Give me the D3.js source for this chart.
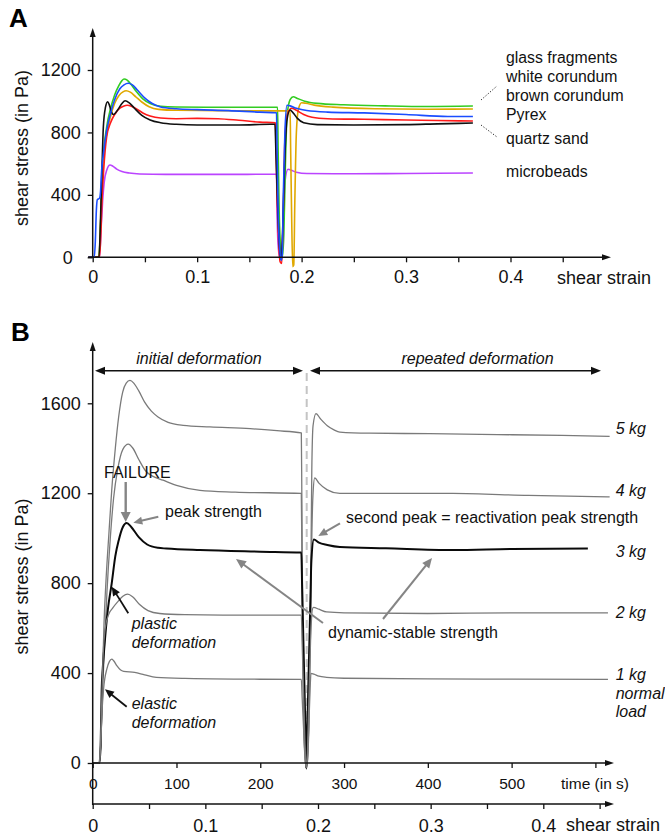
<!DOCTYPE html>
<html>
<head>
<meta charset="utf-8">
<script src="https://cdn.jsdelivr.net/npm/d3@7"></script>
<style>
html,body{margin:0;padding:0;background:#fff;}
svg{display:block;font-family:"Liberation Sans",Arial,sans-serif;}
</style>
</head>
<body>
<svg id="chart" width="665" height="836"></svg>
<script>
// ---------- DATA: panel A (shear strain, shear stress in Pa) ----------
const legendA = ["glass fragments","white corundum","brown corundum","Pyrex","quartz sand","microbeads"];
const colorsA = ["#33cc22","#e0a800","#1a4dff","#ff1a1a","#111111","#bb44ff"];
const glassFragments = [[-0.004,0],[0.006,0],[0.0075,200],[0.0086,420],[0.010,620],[0.0134,836],[0.017,950],[0.021,1040],[0.025,1100],[0.028,1132],[0.030,1142],[0.033,1135],[0.037,1105],[0.042,1060],[0.048,1015],[0.055,985],[0.065,968],[0.08,963],[0.12,961],[0.177,961],[0.1775,700],[0.1785,300],[0.180,60],[0.1815,0],[0.183,150],[0.1845,600],[0.186,900],[0.189,1010],[0.192,1029],[0.196,1018],[0.203,1000],[0.215,986],[0.24,977],[0.28,970],[0.32,966],[0.364,969]];
const whiteCorundum = [[-0.004,0],[0.006,0],[0.0075,200],[0.0086,420],[0.010,600],[0.0134,790],[0.017,900],[0.021,985],[0.025,1035],[0.029,1060],[0.032,1067],[0.036,1058],[0.041,1030],[0.047,995],[0.054,965],[0.063,948],[0.08,942],[0.12,940],[0.17,938],[0.189,938],[0.1895,700],[0.1905,250],[0.1915,-60],[0.1925,-50],[0.1935,350],[0.195,800],[0.197,950],[0.2,990],[0.204,987],[0.212,975],[0.23,962],[0.27,952],[0.32,949],[0.364,950]];
const brownCorundum = [[-0.004,0],[0.0015,0],[0.0025,100],[0.0035,300],[0.0045,370],[0.0065,378],[0.0075,420],[0.0086,560],[0.010,650],[0.0134,815],[0.017,920],[0.021,1010],[0.026,1080],[0.030,1105],[0.034,1115],[0.038,1105],[0.043,1070],[0.05,1020],[0.057,985],[0.065,963],[0.08,952],[0.1,946],[0.13,940],[0.16,930],[0.176,926],[0.1765,700],[0.1775,300],[0.179,60],[0.1805,-20],[0.1815,20],[0.1825,400],[0.184,800],[0.186,974],[0.189,970],[0.195,955],[0.205,940],[0.225,930],[0.26,925],[0.3,915],[0.34,902],[0.364,902]];
const pyrex = [[-0.004,0],[0.0065,0],[0.0078,150],[0.009,380],[0.0105,560],[0.0134,773],[0.017,860],[0.021,915],[0.026,955],[0.030,970],[0.033,974],[0.037,968],[0.042,950],[0.048,925],[0.055,905],[0.065,892],[0.08,888],[0.1,890],[0.12,888],[0.14,878],[0.16,866],[0.175,862],[0.1755,700],[0.1765,400],[0.178,100],[0.1795,-30],[0.181,-40],[0.1825,300],[0.184,750],[0.1865,920],[0.1905,955],[0.195,942],[0.202,915],[0.21,897],[0.225,888],[0.26,884],[0.3,880],[0.33,876],[0.364,873]];
const quartzSand = [[-0.004,0],[0.006,0],[0.0075,250],[0.009,600],[0.0102,836],[0.0122,960],[0.0143,997],[0.016,975],[0.018,930],[0.020,915],[0.024,945],[0.028,985],[0.031,1003],[0.035,990],[0.04,955],[0.047,910],[0.055,880],[0.065,862],[0.08,852],[0.1,848],[0.14,848],[0.17,852],[0.1745,852],[0.1755,650],[0.177,350],[0.179,50],[0.1805,-15],[0.182,200],[0.184,650],[0.186,880],[0.189,944],[0.192,925],[0.196,890],[0.202,862],[0.215,850],[0.25,848],[0.3,850],[0.33,855],[0.364,860]];
const microbeads = [[-0.004,0],[0.0065,0],[0.008,180],[0.0095,360],[0.011,480],[0.0135,560],[0.0166,591],[0.019,585],[0.023,565],[0.028,550],[0.035,540],[0.045,534],[0.07,531],[0.12,531],[0.176,532],[0.1765,300],[0.1775,80],[0.179,0],[0.181,0],[0.1825,250],[0.184,480],[0.187,564],[0.19,558],[0.195,545],[0.205,537],[0.25,535],[0.3,537],[0.364,540]];
const seriesA = [glassFragments, whiteCorundum, brownCorundum, pyrex, quartzSand, microbeads];
const yTicksA = [0,400,800,1200];
const xTicksA = [0,0.05,0.1,0.15,0.2,0.25,0.3,0.35,0.4,0.45];
const xTickLabelsA = {"0":"0","0.1":"0.1","0.2":"0.2","0.3":"0.3","0.4":"0.4"};

// ---------- DATA: panel B (time in s, shear stress in Pa) ----------
const loadLabels = ["5 kg","4 kg","3 kg","2 kg","1 kg"];
const kg5 = [[0,0],[8,0],[10,120],[12,420],[13.5,620],[16,820],[19.5,1030],[22.7,1213],[27,1400],[31,1540],[35.8,1650],[40,1690],[44.5,1702],[49,1690],[55,1655],[62,1605],[70,1565],[78,1539],[90,1515],[108,1502],[140,1495],[188,1487],[220,1478],[249,1468],[249.6,1200],[250.5,700],[252,200],[253.5,20],[255,-20],[256.5,20],[258,200],[260,700],[261.5,1300],[263,1500],[266.5,1554],[272,1530],[280,1500],[288,1482],[295,1472],[330,1467],[402,1465],[500,1460],[560,1457],[617,1453]];
const kg4 = [[0,0],[8,0],[10,120],[12,330],[14,520],[17,760],[21,1000],[25,1180],[30,1310],[36,1395],[42.5,1418],[48,1400],[55,1350],[63,1300],[72,1275],[84,1258],[100,1235],[128,1213],[170,1205],[249,1199],[249.6,950],[250.5,550],[252,160],[253.5,15],[255,-20],[256.5,15],[258,160],[260,600],[261.5,1000],[263,1200],[265,1268],[270,1245],[280,1215],[295,1199],[350,1199],[430,1199],[520,1190],[617,1184]];
const kg3 = [[0,0],[8,0],[9.5,80],[10.7,324],[12,420],[14,520],[18,680],[22.7,799],[27,920],[31,990],[36,1050],[40.5,1068],[46,1050],[55,1005],[65,972],[78,957],[88,954],[128,947],[200,940],[249,936],[250,776],[252,456],[254,135],[255,-25],[256,130],[258,440],[260,750],[261,902],[264,994],[270,980],[280,970],[295,961],[350,955],[430,947],[500,952],[591,954]];
const kg2 = [[0,0],[8,0],[9.5,100],[11,300],[12.5,480],[15,600],[19,660],[24,690],[30,718],[36,742],[41.7,751],[48,738],[56,705],[66,678],[80,665],[110,660],[167,658],[249,658],[250,530],[252,270],[254,20],[255,-20],[256,20],[258,280],[260,540],[262,680],[263.5,692],[270,684],[279,672],[300,668],[400,665],[500,668],[615,668]];
const kg1 = [[0,0],[8,0],[9.5,80],[11,220],[13,330],[17,420],[20,452],[22.7,462],[25,455],[29,432],[33,415],[37,408],[50,403],[62,392],[76,381],[110,376],[180,373],[249,372],[250,290],[252,130],[254,10],[255,-20],[256,10],[258,170],[259.5,330],[260.5,399],[264,395],[270,386],[279,381],[300,377],[400,374],[500,373],[615,372]];
const seriesB = [kg5, kg4, kg3, kg2, kg1];
const yTicksB = [0,400,800,1200,1600];
const timeTicksB = [0,100,200,300,400,500,600];
const strainTicksB = [0,0.05,0.1,0.15,0.2,0.25,0.3,0.35,0.4,0.45];

// ---------- DRAWING ----------
const svg = d3.select("#chart");
const FONT = '"Liberation Sans",Arial,sans-serif';

function tri(g, x, y, ang, len, wid, color){
  // triangle with tip at (x,y) pointing in direction ang (radians)
  const bx = x - len*Math.cos(ang), by = y - len*Math.sin(ang);
  const px = -Math.sin(ang)*wid/2, py = Math.cos(ang)*wid/2;
  g.append("path").attr("d", `M${x},${y}L${bx+px},${by+py}L${bx-px},${by-py}Z`).attr("fill", color);
}
function arrow(g, x1,y1,x2,y2,color,width,len,wid,both){
  const ang = Math.atan2(y2-y1, x2-x1);
  g.append("line").attr("x1", both ? x1+ (len-2)*Math.cos(ang) : x1).attr("y1", both ? y1+(len-2)*Math.sin(ang) : y1)
    .attr("x2", x2-(len-2)*Math.cos(ang)).attr("y2", y2-(len-2)*Math.sin(ang))
    .attr("stroke", color).attr("stroke-width", width);
  tri(g, x2, y2, ang, len, wid, color);
  if (both) tri(g, x1, y1, ang+Math.PI, len, wid, color);
}

// ----- Panel A -----
const xA = d3.scaleLinear().domain([0,0.4]).range([92.7,510.5]);
const yA = d3.scaleLinear().domain([0,1200]).range([257.3,70]);
const gA = svg.append("g");

gA.append("text").attr("x",9).attr("y",27).attr("font-size",26).attr("font-weight","bold").attr("font-family",FONT).text("A");

const lineA = d3.line().x(d=>xA(d[0])).y(d=>yA(d[1])).curve(d3.curveMonotoneX);
// draw in order so black / green ordering looks similar
const drawOrderA = [5,0,1,3,4,2];
drawOrderA.forEach(i=>{
  gA.append("path").datum(seriesA[i]).attr("d", lineA).attr("fill","none")
    .attr("stroke", colorsA[i]).attr("stroke-width",1.6).attr("stroke-linejoin","round");
});

// axes
const axYA = gA.append("g").attr("transform",`translate(${xA(0)},0)`)
  .call(d3.axisLeft(yA).tickValues(yTicksA).tickSize(5).tickPadding(7).tickFormat(d3.format("d")));
axYA.select(".domain").remove();
axYA.selectAll("text").attr("font-size",18).attr("font-family",FONT).attr("fill","#111");
axYA.selectAll("text").filter(d=>d===0).attr("dx",-8);
axYA.selectAll("line").attr("stroke","#111").attr("stroke-width",1.3);

const axXA = gA.append("g").attr("transform",`translate(0,${yA(0)})`)
  .call(d3.axisBottom(xA).tickValues(xTicksA).tickSize(5).tickPadding(8)
  .tickFormat(d=>xTickLabelsA[String(+d.toFixed(2))]||""));
axXA.select(".domain").remove();
axXA.selectAll("text").attr("font-size",18).attr("font-family",FONT).attr("fill","#111");
axXA.selectAll("line").attr("stroke","#111").attr("stroke-width",1.3);

gA.append("line").attr("x1",xA(0)).attr("x2",xA(0)).attr("y1",yA(0)).attr("y2",36).attr("stroke","#111").attr("stroke-width",1.5);
tri(gA, xA(0), 28, -Math.PI/2, 9, 6, "#111");
gA.append("line").attr("x1",88).attr("x2",603).attr("y1",yA(0)).attr("y2",yA(0)).attr("stroke","#111").attr("stroke-width",1.5);
tri(gA, 611, yA(0), 0, 9, 6, "#111");
gA.append("text").attr("x",557).attr("y",283.5).attr("font-size",18).attr("font-family",FONT).attr("fill","#111").text("shear strain");
gA.append("text").attr("transform","translate(27.5,148) rotate(-90)").attr("text-anchor","middle")
  .attr("font-size",18).attr("font-family",FONT).attr("fill","#111").text("shear stress (in Pa)");

// legend text
const legY = [63.3,82.3,101.2,120.2,144.3,176.7];
legendA.forEach((t,i)=>{
  gA.append("text").attr("x",506).attr("y",legY[i]).attr("font-size",15.8).attr("font-family",FONT).attr("fill","#111").text(t);
});
gA.append("line").attr("x1",481).attr("y1",100).attr("x2",497).attr("y2",86).attr("stroke","#333").attr("stroke-width",1).attr("stroke-dasharray","1.3,1.7");
gA.append("line").attr("x1",481).attr("y1",125).attr("x2",497).attr("y2",137).attr("stroke","#333").attr("stroke-width",1).attr("stroke-dasharray","1.3,1.7");

// ----- Panel B -----
const tB = d3.scaleLinear().domain([0,600]).range([92.7,595.4]);
const sB = d3.scaleLinear().domain([0,0.4]).range([92.7,543.3]);
const yB = d3.scaleLinear().domain([0,1600]).range([763,403.3]);
const gB = svg.append("g");

gB.append("text").attr("x",11).attr("y",341).attr("font-size",26).attr("font-weight","bold").attr("font-family",FONT).text("B");

// dashed separator
gB.append("line").attr("x1",306.7).attr("x2",306.7).attr("y1",373).attr("y2",763)
  .attr("stroke","#c4c4c4").attr("stroke-width",2).attr("stroke-dasharray","8,5");

const lineB = d3.line().x(d=>tB(d[0])).y(d=>yB(d[1])).curve(d3.curveMonotoneX);
seriesB.forEach((s,i)=>{
  const main = i===2;
  gB.append("path").datum(s).attr("d",lineB).attr("fill","none")
    .attr("stroke", main ? "#0a0a0a" : "#7a7a7a").attr("stroke-width", main ? 2 : 1.3)
    .attr("stroke-linejoin","round");
});

// y axis
const axYB = gB.append("g").attr("transform",`translate(${tB(0)},0)`)
  .call(d3.axisLeft(yB).tickValues(yTicksB).tickSize(5).tickPadding(7).tickFormat(d3.format("d")));
axYB.select(".domain").remove();
axYB.selectAll("text").attr("font-size",18).attr("font-family",FONT).attr("fill","#111");
axYB.selectAll("line").attr("stroke","#111").attr("stroke-width",1.3);
gB.append("line").attr("x1",tB(0)).attr("x2",tB(0)).attr("y1",805).attr("y2",350).attr("stroke","#111").attr("stroke-width",1.5);
tri(gB, tB(0), 342, -Math.PI/2, 9, 6, "#111");

// time axis
const axT = gB.append("g").attr("transform",`translate(0,${yB(0)})`)
  .call(d3.axisBottom(tB).tickValues(timeTicksB).tickSize(5).tickPadding(10)
  .tickFormat(d=> d===600 ? "" : String(d)));
axT.select(".domain").remove();
axT.selectAll("text").attr("font-size",15.5).attr("font-family",FONT).attr("fill","#111");
axT.selectAll("line").attr("stroke","#111").attr("stroke-width",1.3);
gB.append("line").attr("x1",tB(0)).attr("x2",606).attr("y1",yB(0)).attr("y2",yB(0)).attr("stroke","#111").attr("stroke-width",1.5);
tri(gB, 614, yB(0), 0, 9, 6, "#111");
gB.append("text").attr("x",561).attr("y",788.5).attr("font-size",15.5).attr("font-family",FONT).attr("fill","#111").text("time (in s)");

// strain axis
const axS = gB.append("g").attr("transform","translate(0,804)")
  .call(d3.axisBottom(sB).tickValues(strainTicksB).tickSize(5).tickPadding(10)
  .tickFormat(d=>xTickLabelsA[String(+d.toFixed(2))]||""));
axS.select(".domain").remove();
axS.selectAll("text").attr("font-size",18).attr("font-family",FONT).attr("fill","#111");
axS.selectAll("line").attr("stroke","#111").attr("stroke-width",1.3);
gB.append("line").attr("x1",tB(0)).attr("x2",606).attr("y1",804).attr("y2",804).attr("stroke","#111").attr("stroke-width",1.5);
tri(gB, 614, 804, 0, 9, 6, "#111");
gB.append("text").attr("x",566).attr("y",830.7).attr("font-size",18).attr("font-family",FONT).attr("fill","#111").text("shear strain");

gB.append("text").attr("transform","translate(27.5,576.5) rotate(-90)").attr("text-anchor","middle")
  .attr("font-size",18).attr("font-family",FONT).attr("fill","#111").text("shear stress (in Pa)");

// deformation spans
arrow(gB, 95, 370.7, 303, 370.7, "#111", 1.5, 10, 8, true);
arrow(gB, 310, 370.7, 601, 370.7, "#111", 1.5, 10, 8, true);
gB.append("text").attr("x",199).attr("y",364).attr("text-anchor","middle").attr("font-size",16).attr("font-style","italic").attr("font-family",FONT).attr("fill","#111").text("initial deformation");
gB.append("text").attr("x",477.5).attr("y",364).attr("text-anchor","middle").attr("font-size",16).attr("font-style","italic").attr("font-family",FONT).attr("fill","#111").text("repeated deformation");

// load labels
const loadY = [434,495.5,557,618.3,680];
loadLabels.forEach((t,i)=>{
  gB.append("text").attr("x",615.7).attr("y",loadY[i]).attr("font-size",16).attr("font-style","italic").attr("font-family",FONT).attr("fill","#111").text(t);
});
gB.append("text").attr("x",615.7).attr("y",698.5).attr("font-size",16).attr("font-style","italic").attr("font-family",FONT).attr("fill","#111").text("normal");
gB.append("text").attr("x",615.7).attr("y",717.3).attr("font-size",16).attr("font-style","italic").attr("font-family",FONT).attr("fill","#111").text("load");

// annotations
const GR = "#858585";
gB.append("text").attr("x",104).attr("y",478.3).attr("font-size",16).attr("font-family",FONT).attr("fill","#111").text("FAILURE");
arrow(gB, 125.7, 482, 125.7, 522, GR, 2.4, 10, 10, false);
gB.append("text").attr("x",165).attr("y",517).attr("font-size",16).attr("font-family",FONT).attr("fill","#111").text("peak strength");
arrow(gB, 158.3, 516.7, 133.3, 522.7, GR, 2, 9, 8, false);
gB.append("text").attr("x",346).attr("y",523.3).attr("font-size",16).attr("font-family",FONT).attr("fill","#111").text("second peak = reactivation peak strength");
arrow(gB, 340, 523.3, 318.3, 536, GR, 2, 9, 8, false);
gB.append("text").attr("x",328).attr("y",638.3).attr("font-size",16).attr("font-family",FONT).attr("fill","#111").text("dynamic-stable strength");
arrow(gB, 323, 623, 236, 559, GR, 2, 10, 9, false);
arrow(gB, 383, 619, 432, 558, GR, 2, 10, 9, false);

gB.append("text").attr("x",131.7).attr("y",629.3).attr("font-size",16).attr("font-style","italic").attr("font-family",FONT).attr("fill","#111").text("plastic");
gB.append("text").attr("x",131.7).attr("y",647.7).attr("font-size",16).attr("font-style","italic").attr("font-family",FONT).attr("fill","#111").text("deformation");
arrow(gB, 128.3, 613.3, 111.7, 586.7, "#111", 1.8, 9, 8, false);
gB.append("text").attr("x",131.7).attr("y",709).attr("font-size",16).attr("font-style","italic").attr("font-family",FONT).attr("fill","#111").text("elastic");
gB.append("text").attr("x",131.7).attr("y",727.7).attr("font-size",16).attr("font-style","italic").attr("font-family",FONT).attr("fill","#111").text("deformation");
arrow(gB, 126.7, 706.7, 105, 689.3, "#111", 1.8, 9, 8, false);
</script>
</body>
</html>
